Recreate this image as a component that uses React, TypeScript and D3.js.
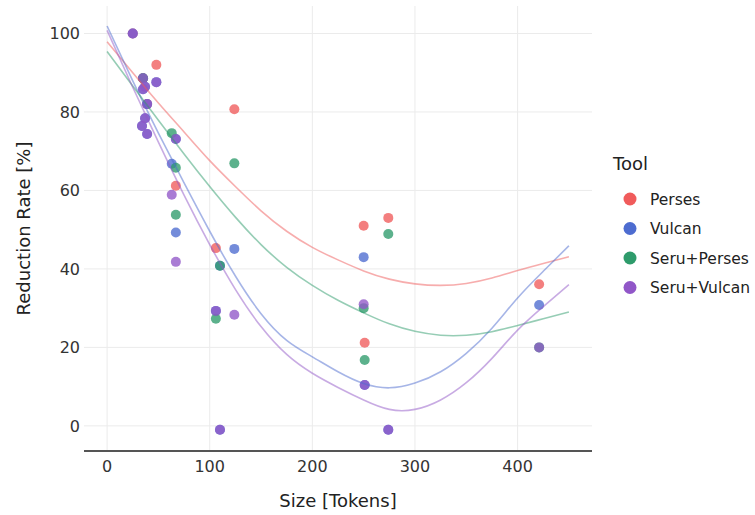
import React, { useRef, useEffect } from 'react';
import * as d3 from 'd3';

const tools = ['Perses', 'Vulcan', 'Seru+Perses', 'Seru+Vulcan'];
const colors = ['#f05b5b', '#4d6cd0', '#2e9b6b', '#9157c8'];

// [size in tokens, reduction rate %]
const persesPts: [number, number][] = [
  [25, 100], [35, 88.6], [39, 82], [48, 92], [67, 61.2], [106, 45.3],
  [124, 80.7], [250, 51], [251, 21.2], [274, 53], [421, 36.1],
];
const vulcanPts: [number, number][] = [
  [25, 100], [35, 88.6], [37, 86.4], [35, 85.8], [48, 87.6], [39, 82],
  [37, 78.4], [34, 76.4], [39, 74.4], [63, 66.8], [67, 73.1], [67, 49.3],
  [106, 29.3], [110, -1], [110, 40.8], [124, 45.1], [250, 43], [251, 10.4],
  [274, -1], [421, 30.8],
];
const seruPersesPts: [number, number][] = [
  [35, 88.6], [63, 74.6], [67, 65.8], [67, 53.8], [106, 27.3], [110, 40.8],
  [124, 66.9], [250, 30], [251, 16.8], [274, 48.9], [421, 20],
];
const seruVulcanPts: [number, number][] = [
  [25, 100], [35, 88.6], [37, 86.4], [35, 85.8], [48, 87.6], [39, 82],
  [37, 78.4], [34, 76.4], [39, 74.4], [63, 58.9], [67, 73.1], [67, 41.8],
  [106, 29.3], [110, -1], [124, 28.3], [250, 31], [251, 10.4], [274, -1],
  [421, 20],
];

// smoothed trend lines
const fitX = [0, 25, 50, 75, 100, 125, 150, 175, 200, 225, 250, 275, 300, 325, 350, 375, 400, 425, 450];
const fitPerses = [97.9, 90, 82.3, 74.9, 67.6, 61, 54.8, 49.6, 45.5, 42.3, 39.5, 37.4, 36.2, 35.8, 36.3, 37.7, 39.6, 41.4, 43.1];
const fitVulcan = [101.9, 87.9, 74.6, 61.9, 49.6, 38.2, 28.6, 21.8, 17.6, 13.8, 10.8, 9.7, 10.9, 13.8, 18.5, 24.9, 32.6, 39.4, 45.9];
const fitSeruPerses = [95.4, 86.6, 77.9, 69.3, 61, 53.2, 46.2, 40.4, 35.8, 32, 28.8, 26, 24.1, 23.1, 23.1, 24, 25.6, 27.3, 29];
const fitSeruVulcan = [100.8, 86.3, 72.3, 58.8, 46.2, 34.8, 25.3, 18.2, 13.4, 9.8, 6.6, 4.2, 4.2, 6.6, 11, 17.2, 24.4, 30.4, 36];

const xTicks = [0, 100, 200, 300, 400];
const yTicks = [0, 20, 40, 60, 80, 100];

const font = '"DejaVu Sans", sans-serif';

export default function App() {
  const ref = useRef<SVGSVGElement>(null);
  useEffect(() => {
    const svg = d3.select(ref.current);
    svg.selectAll('*').remove();
    const x = d3.scaleLinear().domain([-22.5, 472.5]).range([84, 592]);
    const y = d3.scaleLinear().domain([-6.4, 107]).range([451, 6]);

    const grid = svg.append('g');
    xTicks.forEach(t => {
      grid.append('line')
        .attr('x1', x(t)).attr('x2', x(t)).attr('y1', 6).attr('y2', 451)
        .attr('stroke', '#ebebeb').attr('stroke-width', 1);
    });
    yTicks.forEach(t => {
      grid.append('line')
        .attr('x1', 84).attr('x2', 592).attr('y1', y(t)).attr('y2', y(t))
        .attr('stroke', '#ebebeb').attr('stroke-width', 1);
    });

    const pts = [persesPts, vulcanPts, seruPersesPts, seruVulcanPts];
    pts.forEach((arr, i) => {
      svg.append('g').selectAll('circle').data(arr).join('circle')
        .attr('cx', d => x(d[0]))
        .attr('cy', d => y(d[1]))
        .attr('r', 5)
        .attr('fill', colors[i])
        .attr('fill-opacity', 0.78);
    });

    const fits = [fitPerses, fitVulcan, fitSeruPerses, fitSeruVulcan];
    const line = d3.line<number>()
      .x((_, j) => x(fitX[j]))
      .y(d => y(d))
      .curve(d3.curveNatural);
    fits.forEach((f, i) => {
      svg.append('path')
        .attr('d', line(f))
        .attr('fill', 'none')
        .attr('stroke', colors[i])
        .attr('stroke-opacity', 0.5)
        .attr('stroke-width', 1.6);
    });

    // axes
    svg.append('line')
      .attr('x1', 84).attr('x2', 592).attr('y1', 451).attr('y2', 451)
      .attr('stroke', '#555').attr('stroke-width', 1.8);
    xTicks.forEach(t => {
      svg.append('text')
        .attr('x', x(t)).attr('y', 472)
        .attr('text-anchor', 'middle')
        .attr('font-family', font).attr('font-size', 16).attr('fill', '#333')
        .text(t);
    });
    yTicks.forEach(t => {
      svg.append('text')
        .attr('x', 80).attr('y', y(t)).attr('dy', '0.36em')
        .attr('text-anchor', 'end')
        .attr('font-family', font).attr('font-size', 16).attr('fill', '#333')
        .text(t);
    });
    svg.append('text')
      .attr('x', 338).attr('y', 507)
      .attr('text-anchor', 'middle')
      .attr('font-family', font).attr('font-size', 18).attr('fill', '#222')
      .text('Size [Tokens]');
    svg.append('text')
      .attr('transform', 'translate(30,228.5) rotate(-90)')
      .attr('text-anchor', 'middle')
      .attr('font-family', font).attr('font-size', 18).attr('fill', '#222')
      .text('Reduction Rate [%]');

    // legend
    const lg = svg.append('g');
    lg.append('text')
      .attr('x', 613).attr('y', 170)
      .attr('font-family', font).attr('font-size', 18).attr('fill', '#222')
      .text('Tool');
    tools.forEach((name, i) => {
      const cy = 199 + i * 29.5;
      lg.append('circle').attr('cx', 630).attr('cy', cy).attr('r', 6.5).attr('fill', colors[i]);
      lg.append('text')
        .attr('x', 650).attr('y', cy).attr('dy', '0.36em')
        .attr('font-family', font).attr('font-size', 15.5).attr('fill', '#222')
        .text(name);
    });
  }, []);
  return (
    <svg
      ref={ref}
      width={755}
      height={515}
      style={{ position: 'absolute', left: 0, top: 0, background: '#fff' }}
    />
  );
}
